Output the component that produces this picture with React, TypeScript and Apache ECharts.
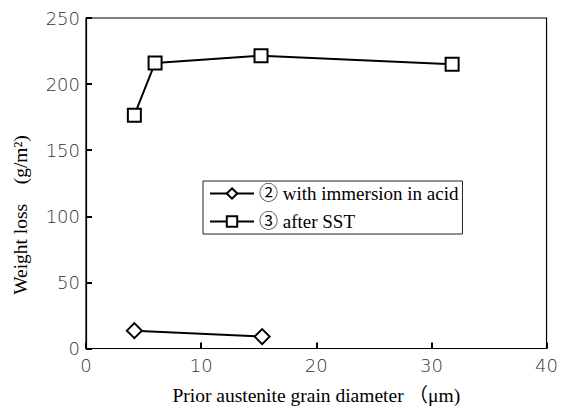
import React, { useEffect, useRef } from "react";
import * as echarts from "echarts";

const seriesNames = ["② with immersion in acid", "③ after SST"];
const immersionX = [4.2, 15.3];
const immersionY = [13.5, 9];
const sstX = [4.2, 6.0, 15.2, 31.8];
const sstY = [176.5, 216, 221.5, 215];
const xTicks = [0, 10, 20, 30, 40];
const yTicks = [0, 50, 100, 150, 200, 250];
const xTitle = "Prior austenite grain diameter （μm)";
const yTitle = "Weight loss　(g/m²)";

const serif = "'Liberation Serif', 'Noto Sans CJK JP', serif";

export default function App() {
  const ref = useRef<HTMLDivElement>(null);
  useEffect(() => {
    if (!ref.current) return;
    const chart = echarts.init(ref.current, null, { renderer: "svg" });
    const pair = (xs: number[], ys: number[]) => xs.map((x, i) => [x, ys[i]]);
    const tickFont = {
      fontFamily: "'DejaVu Sans'",
      fontWeight: 200,
      fontSize: 18,
      color: "#333",
    };
    chart.setOption({
      animation: false,
      grid: {
        left: 86,
        right: 12,
        top: 18,
        bottom: 56,
        show: true,
        borderColor: "#000",
        borderWidth: 1.2,
      },
      graphic: [
        {
          type: "text",
          x: 20,
          y: 215,
          rotation: Math.PI / 2,
          style: {
            text: yTitle,
            fontFamily: serif,
            fontSize: 19.5,
            fill: "#000",
            align: "center",
            verticalAlign: "middle",
          },
        },
      ],
      legend: {
        orient: "vertical",
        left: 203,
        top: 181,
        data: seriesNames,
        borderColor: "#222",
        borderWidth: 1,
        padding: [3, 4, 3, 6],
        itemGap: 9,
        itemWidth: 44,
        itemHeight: 13,
        textStyle: { fontFamily: serif, fontSize: 19, color: "#000" },
      },
      xAxis: {
        type: "value",
        min: xTicks[0],
        max: xTicks[xTicks.length - 1],
        interval: 10,
        name: xTitle,
        nameLocation: "middle",
        nameGap: 37,
        nameTextStyle: { fontFamily: serif, fontSize: 19.5, color: "#000" },
        axisLine: { lineStyle: { color: "#000", width: 1.2 } },
        axisTick: { inside: true, length: 6, lineStyle: { color: "#000", width: 2 } },
        axisLabel: { ...tickFont, margin: 8 },
        splitLine: { show: false },
      },
      yAxis: {
        type: "value",
        min: yTicks[0],
        max: yTicks[yTicks.length - 1],
        interval: 50,
        axisLine: { show: true, lineStyle: { color: "#000", width: 1.2 } },
        axisTick: { show: true, inside: true, length: 6, lineStyle: { color: "#000", width: 2 } },
        axisLabel: { ...tickFont, margin: 6 },
        splitLine: { show: false },
      },
      series: [
        {
          name: seriesNames[0],
          type: "line",
          data: pair(immersionX, immersionY),
          symbol: "diamond",
          symbolSize: 15,
          lineStyle: { color: "#000", width: 2 },
          itemStyle: { color: "#fff", borderColor: "#000", borderWidth: 2 },
        },
        {
          name: seriesNames[1],
          type: "line",
          data: pair(sstX, sstY),
          symbol: "rect",
          symbolSize: 13,
          lineStyle: { color: "#000", width: 2 },
          itemStyle: { color: "#fff", borderColor: "#000", borderWidth: 2 },
        },
      ],
    });
    return () => chart.dispose();
  }, []);
  return <div ref={ref} style={{ width: 561, height: 410, position: "absolute", left: 0, top: 0 }} />;
}
